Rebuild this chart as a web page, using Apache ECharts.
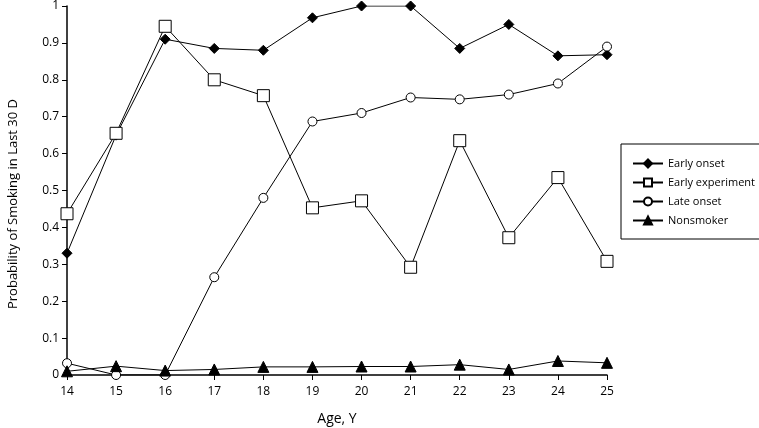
<!DOCTYPE html>
<html>
<head>
<meta charset="utf-8">
<script src="https://cdn.jsdelivr.net/npm/echarts@6/dist/echarts.min.js"></script>
<style>
html, body { margin: 0; padding: 0; background: #fff; }
#chart { width: 759px; height: 428px; }
</style>
</head>
<body>
<div id="chart"></div>
<script>
var ages = ['14', '15', '16', '17', '18', '19', '20', '21', '22', '23', '24', '25'];
var earlyOnset = [0.33, 0.65, 0.91, 0.885, 0.88, 0.968, 1.0, 1.0, 0.885, 0.95, 0.865, 0.868];
var earlyExperiment = [0.437, 0.655, 0.945, 0.80, 0.757, 0.453, 0.472, 0.292, 0.635, 0.372, 0.535, 0.308];
var lateOnset = [0.032, 0, 0, 0.265, 0.48, 0.687, 0.71, 0.752, 0.747, 0.76, 0.79, 0.89];
var nonsmoker = [0.01, 0.024, 0.012, 0.015, 0.022, 0.022, 0.023, 0.023, 0.028, 0.015, 0.038, 0.033];

var chart = echarts.init(document.getElementById('chart'));
var font = 'Open Sans';

function line(name, data, symbol, size, fill) {
    return {
        name: name,
        type: 'line',
        data: data,
        symbol: symbol,
        symbolSize: size,
        showAllSymbol: true,
        lineStyle: { color: '#000', width: 1 },
        itemStyle: { color: fill, borderColor: '#000', borderWidth: 1 },
        emphasis: { disabled: true },
        z: 3
    };
}

var option = {
    animation: false,
    textStyle: { fontFamily: font, color: '#000' },
    grid: { left: 67, right: 152, top: 6, bottom: 53, outerBoundsMode: 'none' },
    legend: {
        orient: 'vertical',
        left: 621,
        top: 144,
        padding: [14, 12, 13, 11],
        itemGap: 8,
        itemWidth: 30,
        itemHeight: 10,
        borderColor: '#000',
        borderWidth: 1,
        textStyle: { fontFamily: font, fontSize: 11, color: '#000' },
        data: ['Early onset', 'Early experiment', 'Late onset', 'Nonsmoker']
    },
    graphic: [{
        type: 'text',
        x: 13,
        y: 204,
        rotation: Math.PI / 2,
        style: {
            text: 'Probability of Smoking in Last 30 D',
            font: '13px "Open Sans"',
            fill: '#000',
            align: 'center',
            verticalAlign: 'middle'
        }
    }],
    xAxis: {
        type: 'category',
        data: ages,
        boundaryGap: false,
        name: 'Age, Y',
        nameLocation: 'middle',
        nameGap: 37,
        nameTextStyle: { fontSize: 14, fontFamily: font },
        axisLine: { lineStyle: { color: '#000', width: 1.5 } },
        axisTick: { alignWithLabel: true, length: 5, lineStyle: { color: '#000' } },
        axisLabel: { fontSize: 12, color: '#000', margin: 11 },
        splitLine: { show: false }
    },
    yAxis: {
        type: 'value',
        min: 0,
        max: 1,
        interval: 0.1,
        axisLine: { show: true, lineStyle: { color: '#000', width: 1.5 } },
        axisTick: { show: true, length: 5, lineStyle: { color: '#000' } },
        axisLabel: {
            fontSize: 12, color: '#000', margin: 8,
            formatter: function (v) { return String(Math.round(v * 10) / 10); }
        },
        splitLine: { show: false }
    },
    series: [
        line('Early onset', earlyOnset, 'diamond', 10, '#000'),
        line('Early experiment', earlyExperiment, 'rect', 12, '#fff'),
        line('Late onset', lateOnset, 'circle', 9, '#fff'),
        line('Nonsmoker', nonsmoker, 'triangle', 11, '#000')
    ]
};

chart.setOption(option);
</script>
</body>
</html>
